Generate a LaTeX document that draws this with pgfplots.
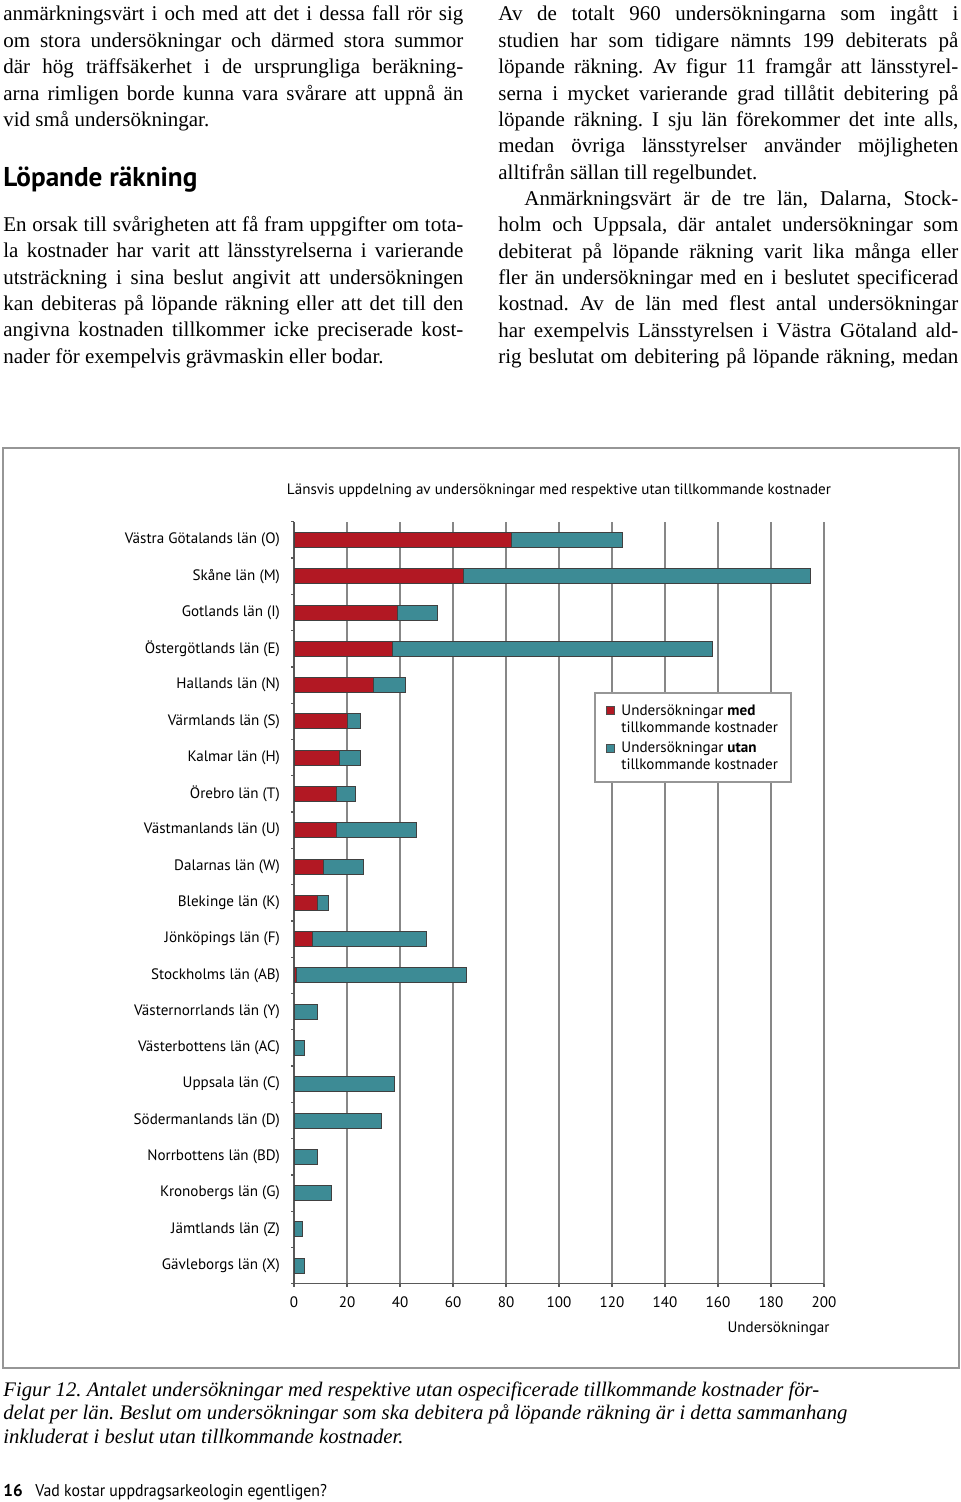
\documentclass[border=0pt]{standalone}
\usepackage{pgfplots}
\pgfplotsset{compat=1.18}
\usepackage{pgfplotstable}
\usepackage{fontspec}
\setmainfont{Liberation Serif}
\newfontfamily\cf{PT Sans}
\definecolor{barred}{RGB}{178,24,35}
\definecolor{barteal}{RGB}{61,139,149}
\definecolor{gridgrey}{RGB}{135,135,135}
\definecolor{framegrey}{RGB}{150,150,150}
\newcommand\JL[1]{\hbox to\linewidth{#1}}
\newcommand\LL[1]{\hbox{#1}}
\newcommand\cfs{\cf\fontsize{7.55}{9}\selectfont}
\frenchspacing

% pos = 20 - row (top row = Västra Götaland)
\pgfplotstableread{
pos red teal
20 82 42
19 64 131
18 39 15
17 37 121
16 30 12
15 20 5
14 17 8
13 16 7
12 16 30
11 11 15
10 9 4
9 7 43
8 1 64
7 0 9
6 0 4
5 0 38
4 0 33
3 0 9
2 0 14
1 0 3
0 0 4
}\lan

\begin{document}
\frenchspacing
\begin{tikzpicture}
\path[use as bounding box] (0,0) rectangle (480pt,-751pt);
\begin{scope}[x=0.5pt,y=-0.5pt]
% left column
\node[anchor=base west, inner sep=0] at (3,21) {\begin{minipage}[t]{230pt}\frenchspacing\fontsize{10.5}{13.17}\selectfont
\JL{anmärkningsvärt i och med att det i dessa fall rör sig}
\JL{om stora undersökningar och därmed stora summor}
\JL{där hög träffsäkerhet i de ursprungliga beräkning-}
\JL{arna rimligen borde kunna vara svårare att uppnå än}
\LL{vid små undersökningar.}
\end{minipage}};
\node[anchor=base west, inner sep=0] at (3,187) {\cf\bfseries\fontsize{13.6}{16}\selectfont Löpande räkning};
\node[anchor=base west, inner sep=0] at (3,231.4) {\begin{minipage}[t]{230pt}\frenchspacing\fontsize{10.5}{13.17}\selectfont
\JL{En orsak till svårigheten att få fram uppgifter om tota-}
\JL{la kostnader har varit att länsstyrelserna i varierande}
\JL{utsträckning i sina beslut angivit att undersökningen}
\JL{kan debiteras på löpande räkning eller att det till den}
\JL{angivna kostnaden tillkommer icke preciserade kost-}
\LL{nader för exempelvis grävmaskin eller bodar.}
\end{minipage}};
% right column
\node[anchor=base west, inner sep=0] at (498,21) {\begin{minipage}[t]{230pt}\frenchspacing\fontsize{10.5}{13.17}\selectfont
\JL{Av de totalt 960 undersökningarna som ingått i}
\JL{studien har som tidigare nämnts 199 debiterats på}
\JL{löpande räkning. Av figur 11 framgår att länsstyrel-}
\JL{serna i mycket varierande grad tillåtit debitering på}
\JL{löpande räkning. I sju län förekommer det inte alls,}
\JL{medan övriga länsstyrelser använder möjligheten}
\LL{alltifrån sällan till regelbundet.}
\JL{\hspace*{13pt}Anmärkningsvärt är de tre län, Dalarna, Stock-}
\JL{holm och Uppsala, där antalet undersökningar som}
\JL{debiterat på löpande räkning varit lika många eller}
\JL{fler än undersökningar med en i beslutet specificerad}
\JL{kostnad. Av de län med flest antal undersökningar}
\JL{har exempelvis Länsstyrelsen i Västra Götaland ald-}
\JL{rig beslutat om debitering på löpande räkning, medan}
\end{minipage}};
% frame
\draw[framegrey, line width=0.6pt] (3,448) rectangle (959,1368);
% title
\node[anchor=base, inner sep=0] at (559,494) {\cfs Länsvis uppdelning av undersökningar med respektive utan tillkommande kostnader};
\end{scope}

\begin{axis}[
  at={(279.5pt,-451.4pt)}, anchor=center,
  scale only axis, width=265pt, height=381pt,
  xbar stacked, bar width=7.5pt,
  xmin=0, xmax=200, ymin=-0.5, ymax=20.5,
  axis x line*=bottom, axis y line*=left,
  xtick={0,20,...,200},
  ytick={0,...,20},
  yticklabels={{Gävleborgs län (X)},{Jämtlands län (Z)},{Kronobergs län (G)},{Norrbottens län (BD)},{Södermanlands län (D)},{Uppsala län (C)\hspace{2pt}},{Västerbottens län (AC)},{Västernorrlands län (Y)},{Stockholms län (AB)},{Jönköpings län (F)},{Blekinge län (K)},{Dalarnas län (W)},{Västmanlands län (U)},{Örebro län (T)},{Kalmar län (H)},{Värmlands län (S)},{Hallands län (N)},{Östergötlands län (E)},{Gotlands län (I)},{Skåne län (M)},{Västra Götalands län (O)}},
  minor ytick={-0.5,0.5,...,20.5},
  major y tick style={draw=none},
  tick align=outside,
  major tick length=1.5pt, minor tick length=1.5pt,
  xmajorgrids, grid style={gridgrey, line width=0.6pt},
  axis line style={black!65, line width=0.6pt},
  tick style={black!65, line width=0.6pt},
  /pgf/number format/assume math mode=true,
  ticklabel style={font=\cfs},
  yticklabel style={xshift=-2pt},
  xticklabel style={yshift=-1.5pt},
  xlabel={Undersökningar},
  xlabel style={font=\cfs, at={(rel axis cs:1,0)}, anchor=base east, yshift=-24.5pt, xshift=3pt, inner sep=0},
]
\addplot[fill=barred, draw=black!75, line width=0.4pt] table[x=red, y=pos] {\lan};
\addplot[fill=barteal, draw=black!75, line width=0.4pt] table[x=teal, y=pos] {\lan};
\end{axis}

\begin{scope}[x=0.5pt,y=-0.5pt]
% legend
\draw[framegrey, fill=white, line width=0.6pt] (595,693) rectangle (791,782);
\fill[barred] (606,706) rectangle (614,714);
\draw[black!70, line width=0.3pt] (606,706) rectangle (614,714);
\fill[barteal] (606,744) rectangle (614,752);
\draw[black!70, line width=0.3pt] (606,744) rectangle (614,752);
\node[anchor=base west, inner sep=0] at (621,715) {\cfs Undersökningar \textbf{med}};
\node[anchor=base west, inner sep=0] at (621,732) {\cfs tillkommande kostnader};
\node[anchor=base west, inner sep=0] at (621,752) {\cfs Undersökningar \textbf{utan}};
\node[anchor=base west, inner sep=0] at (621,769) {\cfs tillkommande kostnader};
% caption
\node[anchor=base west, inner sep=0] at (3,1396) {\begin{minipage}[t]{440pt}\frenchspacing\itshape\fontsize{10.35}{11.75}\selectfont
\LL{Figur 12. Antalet undersökningar med respektive utan ospecificerade tillkommande kostnader för-}
\LL{delat per län. Beslut om undersökningar som ska debitera på löpande räkning är i detta sammanhang}
\LL{inkluderat i beslut utan tillkommande kostnader.}
\end{minipage}};
% footer
\node[anchor=base west, inner sep=0] at (3,1496) {\cf\bfseries\fontsize{8.5}{10}\selectfont 16};
\node[anchor=base west, inner sep=0] at (35,1496) {\scalebox{0.93}[1]{\cf\fontsize{8.5}{10}\selectfont Vad kostar uppdragsarkeologin egentligen?}};
\end{scope}
\end{tikzpicture}
\end{document}
